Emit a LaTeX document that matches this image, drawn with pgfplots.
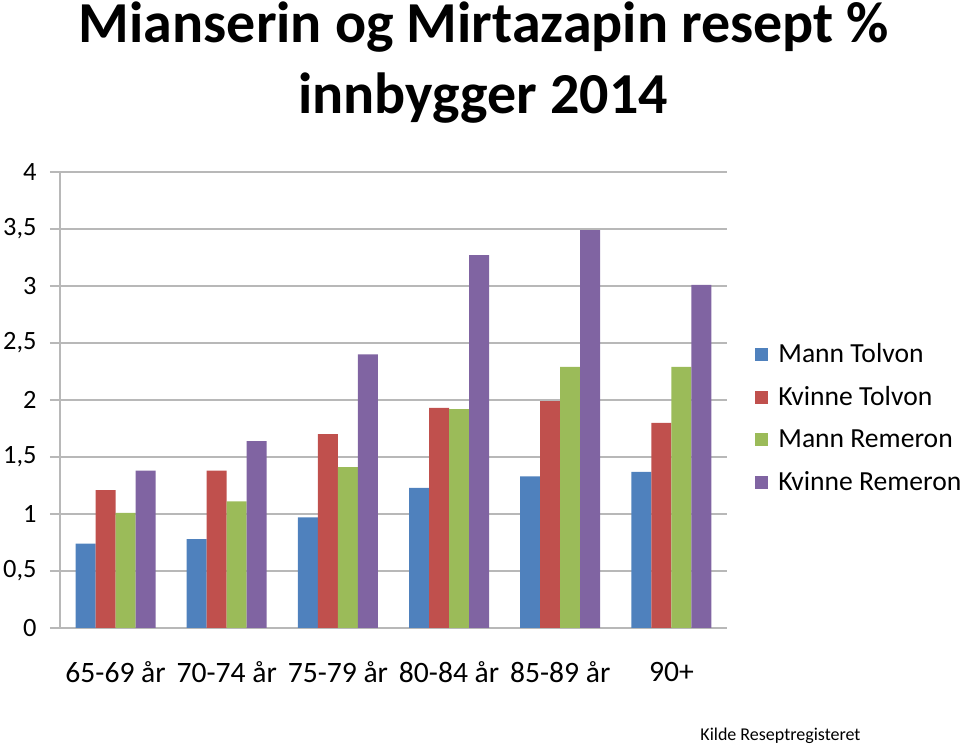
\documentclass[border=0pt]{standalone}
\usepackage{fontspec}
\setmainfont{Carlito}
\usepackage{pgfplots}
\pgfplotsset{compat=1.18}
\definecolor{cBlue}{HTML}{4F81BD}
\definecolor{cRed}{HTML}{C0504D}
\definecolor{cGreen}{HTML}{9BBB59}
\definecolor{cPurple}{HTML}{8064A2}
\definecolor{cGrid}{HTML}{B8B8B8}
\pgfplotsset{sq legend/.style={legend image code/.code={\fill[##1] (0pt,-3.25pt) rectangle (6.5pt,3.25pt); \path (9.5pt,0pt);}}}
\begin{document}
\begin{tikzpicture}[x=0.5pt,y=0.5pt]
\node[anchor=base, inner sep=0pt, font=\fontsize{29pt}{36pt}\selectfont\bfseries] at (484,704) {Mianserin og Mirtazapin resept \%};
\node[anchor=base, inner sep=0pt, font=\fontsize{29pt}{36pt}\selectfont\bfseries] at (483,633) {innbygger 2014};
\node[anchor=base west, inner sep=0pt, font=\fontsize{9pt}{11pt}\selectfont] at (700,6) {Kilde Reseptregisteret};
\begin{axis}[
  at={(30pt,287.5pt)}, anchor=north west,
  scale only axis, width=333.5pt, height=228pt,
  ybar=0pt, bar width=10pt,
  xmin=-0.5, xmax=5.5, ymin=0, ymax=4,
  axis x line*=bottom, axis y line*=left,
  axis line style={cGrid, line width=0.7pt, -},
  ymajorgrids, grid style={cGrid, line width=0.7pt},
  xtick={0,1,2,3,4,5},
  xticklabels={65-69 år,70-74 år,75-79 år,80-84 år,85-89 år,90+},
  minor xtick={-0.5,0.5,1.5,2.5,3.5,4.5,5.5},
  xtick style={draw=none},
  minor tick style={draw=cGrid, line width=0.7pt},
  minor tick length=3.5pt,
  ytick={0,0.5,1,1.5,2,2.5,3,3.5,4},
  yticklabels={0,{0,5},1,{1,5},2,{2,5},3,{3,5},4},
  ytick style={draw=cGrid, line width=0.7pt},
  tick align=outside, major tick length=5pt,
  xticklabel style={font=\fontsize{14.8pt}{17pt}\selectfont, anchor=center, yshift=-17pt, inner sep=0pt},
  yticklabel style={font=\fontsize{13.2pt}{16pt}\selectfont, anchor=east, inner sep=0pt, xshift=-6.5pt},
  legend style={at={(1.042,0.46)}, anchor=west, draw=none, fill=none, inner sep=0pt,
    font=\fontsize{13.8pt}{16pt}\selectfont, row sep=6.5pt,
    legend cell align=left},
]
\addplot[fill=cBlue, draw=none, sq legend] coordinates {(0,0.74) (1,0.78) (2,0.97) (3,1.23) (4,1.33) (5,1.37)};
\addplot[fill=cRed, draw=none, sq legend] coordinates {(0,1.21) (1,1.38) (2,1.70) (3,1.93) (4,1.99) (5,1.80)};
\addplot[fill=cGreen, draw=none, sq legend] coordinates {(0,1.01) (1,1.11) (2,1.41) (3,1.92) (4,2.29) (5,2.29)};
\addplot[fill=cPurple, draw=none, sq legend] coordinates {(0,1.38) (1,1.64) (2,2.40) (3,3.27) (4,3.49) (5,3.01)};
\legend{Mann Tolvon, Kvinne Tolvon, Mann Remeron, Kvinne Remeron}
\end{axis}
\pgfresetboundingbox
\path[use as bounding box] (0,0) rectangle (960,747);
\end{tikzpicture}
\end{document}
